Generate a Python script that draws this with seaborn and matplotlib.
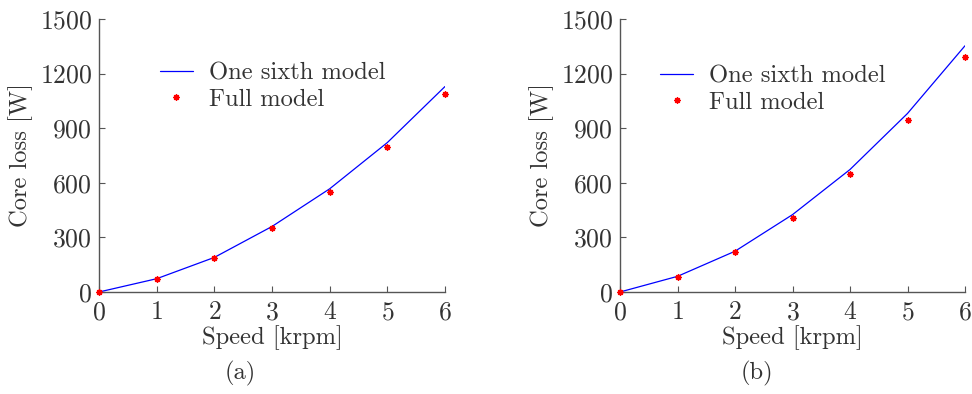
import matplotlib
matplotlib.use("Agg")
import matplotlib.pyplot as plt
import seaborn as sns
import pandas as pd

# --- data ---
speed = [0, 1, 2, 3, 4, 5, 6]

# (a)
sixth_a = [0, 73, 190, 360, 567, 821, 1129]
full_a = [0, 73, 188, 349, 551, 799, 1090]

# (b)
sixth_b = [0, 86, 224, 425, 673, 981, 1353]
full_b = [0, 84, 222, 409, 651, 944, 1291]

yticks = [0, 300, 600, 900, 1200, 1500]
xticks = [0, 1, 2, 3, 4, 5, 6]

# --- style ---
sns.set_style("ticks")
plt.rcParams['font.family'] = ['cmr10', 'DejaVu Serif']
plt.rcParams['axes.formatter.use_mathtext'] = True
text_col = '#333333'
spine_col = '#555555'
fs_tick = 18.5
fs_lab = 17.7

fig = plt.figure(figsize=(9.72, 3.94), dpi=100)
ax_a = fig.add_axes([99 / 972, 102 / 394, 346 / 972, 273 / 394])
ax_b = fig.add_axes([620 / 972, 102 / 394, 345 / 972, 273 / 394])

panels = [(ax_a, sixth_a, full_a, '(a)', (0.176, 0.84), 240),
          (ax_b, sixth_b, full_b, '(b)', (0.116, 0.83), 757)]

for ax, sixth, full, tag, leg_pos, tag_x in panels:
    df = pd.DataFrame({'speed': speed, 'sixth': sixth, 'full': full})
    sns.lineplot(data=df, x='speed', y='sixth', ax=ax, color='blue', lw=0.9,
                 label='One sixth model')
    ax.plot(df['speed'], df['full'], ls='none', marker=(8, 2, 0), ms=4.5, mew=1.0,
            color='red', mec='red', clip_on=False, label='Full model', zorder=3)

    ax.set_xlim(0, 6)
    ax.set_ylim(0, 1500)
    ax.set_xticks(xticks)
    ax.set_yticks(yticks)
    ax.tick_params(direction='in', length=4, color=spine_col, labelcolor=text_col,
                   labelsize=fs_tick)
    ax.tick_params(axis='x', pad=6)
    ax.tick_params(axis='y', pad=5)
    ax.set_xlabel('Speed [krpm]', color=text_col, fontsize=fs_lab, labelpad=1)
    ax.set_ylabel('Core loss [W]', color=text_col, fontsize=fs_lab, labelpad=5)
    for s in ['top', 'right']:
        ax.spines[s].set_visible(False)
    for s in ['left', 'bottom']:
        ax.spines[s].set_color(spine_col)
        ax.spines[s].set_linewidth(1.0)

    leg = ax.legend(loc='upper left', bbox_to_anchor=leg_pos, frameon=False,
                    fontsize=fs_lab, handlelength=1.35, handletextpad=0.65,
                    labelspacing=0.15, borderpad=0, borderaxespad=0)
    for t in leg.get_texts():
        t.set_color(text_col)

    fig.text(tag_x / 972, 1 - 373 / 394, tag, ha='center', va='center',
             color=text_col, fontsize=fs_lab)

fig.savefig("out.png", dpi=100)
